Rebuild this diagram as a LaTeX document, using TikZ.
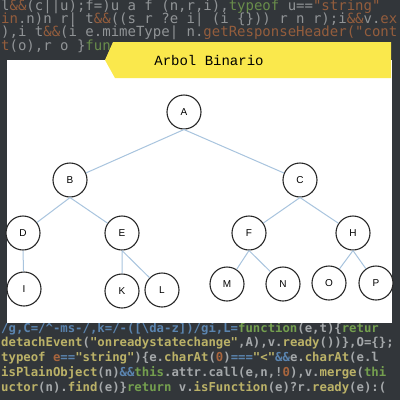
\documentclass[tikz,border=0pt]{standalone}
\usepackage{fontspec}
\setmainfont{Liberation Sans}
\newfontfamily\titlefont{Liberation Mono}
\newfontfamily\codefont{DejaVu Sans Mono}
\definecolor{codebg}{RGB}{50,54,58}
\definecolor{cwh}{RGB}{185,188,190}
\definecolor{cye}{RGB}{212,200,112}
\definecolor{cor}{RGB}{190,110,62}
\definecolor{cgr}{RGB}{128,178,82}
\definecolor{cbl}{RGB}{98,146,196}
\definecolor{banner}{RGB}{250,232,76}
\definecolor{edgeblue}{RGB}{168,196,222}
\definecolor{ringgray}{RGB}{40,40,40}
\newcommand\kW[1]{\textcolor{cwh}{#1}}
\newcommand\kY[1]{\textcolor{cye}{#1}}
\newcommand\kO[1]{\textcolor{cor}{#1}}
\newcommand\kG[1]{\textcolor{cgr}{#1}}
\newcommand\kB[1]{\textcolor{cbl}{#1}}
\tikzset{
  codetop/.style={font=\codefont\fontsize{14}{14}\selectfont, inner sep=0, anchor=west, opacity=0.7},
  codebot/.style={font=\codefont\fontsize{12.3}{12.3}\selectfont\bfseries, inner sep=0, anchor=west, opacity=0.85},
  tnode/.style={circle, draw=ringgray, line width=1.1pt, fill=white, minimum size=34pt, inner sep=0pt, font=\fontsize{10}{10}\selectfont},
  tedge/.style={draw=edgeblue, line width=1pt}
}
\begin{document}
\begin{tikzpicture}[x=1pt,y=-1pt]
\clip (0,0) rectangle (400,400);
\fill[codebg] (0,0) rectangle (400,400);
% background code, top
\node[codetop] (t1) at (1,7) {\kW{l}\kO{\&\&}\kW{(c||u);f=)u a f (n,r,i),}\kG{typeof}\kW{\ u==}\kO{"string"}};
\node[codetop] (t2) at (1,20) {\kO{in}\kW{.n)n r| t}\kO{\&\&}\kW{((s r ?e i| (i \{\})) r n r);i}\kO{\&\&}\kW{v.}\kO{ex}};
\node[codetop] (t3) at (1,33) {\kW{),i t}\kO{\&\&}\kW{(i e.mimeType| n.}\kO{getResponseHeader("cont}};
\node[codetop] (t4) at (1,46) {\kO{t}\kW{(o),r o \}}\kG{fun}};
% background code, bottom
\node[codebot] (b1) at (1,329) {\kB{/g,C=/\textasciicircum-ms-/,k=/-([\textbackslash da-z])/gi,L=}\kG{function}\kW{(e,t)\{}\kG{retur}};
\node[codebot] (b2) at (1,343) {\kY{detachEvent}\kW{(}\kY{"onreadystatechange"}\kW{,A),v.}\kY{ready}\kW{())\},O=\{\};}};
\node[codebot] (b3) at (1,358) {\kY{typeof}\kO{\ e}\kB{==}\kY{"string"}\kW{)\{e.}\kY{charAt}\kW{(}\kO{0}\kW{)}\kB{===}\kY{"<"}\kB{\&\&}\kW{e.}\kY{charAt}\kW{(e.l}};
\node[codebot] (b4) at (1,373) {\kY{isPlainObject}\kW{(n)}\kB{\&\&}\kG{this}\kW{.attr.call(e,n,!}\kO{0}\kW{),v.}\kY{merge}\kW{(}\kG{thi}};
\node[codebot] (b5) at (1,388) {\kY{uctor}\kW{(n).}\kY{find}\kW{(e)\}}\kG{return}\kW{\ v.}\kY{isFunction}\kW{(e)?r.}\kY{ready}\kW{(e):(}};
% white panel and banner
\fill[white] (7,60) rectangle (392,323);
\fill[banner] (113,42) -- (391,42) -- (391,78) -- (115,78) -- (105,60) -- cycle;
\node[font=\titlefont\fontsize{14}{14}\selectfont, inner sep=0] (title) at (209,60) {Arbol Binario};
% tree
\node[tnode] (A) at (184,112) {A};
\node[tnode] (B) at (70,180) {B};
\node[tnode] (C) at (300,180) {C};
\node[tnode] (D) at (23,233) {D};
\node[tnode] (E) at (122,233) {E};
\node[tnode] (F) at (249,233) {F};
\node[tnode] (H) at (353,233) {H};
\node[tnode] (I) at (24,289) {I};
\node[tnode] (K) at (122,291) {K};
\node[tnode] (L) at (162,290) {L};
\node[tnode] (M) at (227,284) {M};
\node[tnode] (N) at (283,284) {N};
\node[tnode] (O) at (329,283) {O};
\node[tnode] (P) at (376,283) {P};
\path[tedge] (A.south) -- (B) (A.south) -- (C)
  (B.south) -- (D) (B.south) -- (E)
  (C.south) -- (F) (C.south) -- (H)
  (D.south) -- (I)
  (E.south) -- (K) (E.south) -- (L)
  (F.south) -- (M) (F.south) -- (N)
  (H.south) -- (O) (H.south) -- (P);
\end{tikzpicture}
\end{document}
